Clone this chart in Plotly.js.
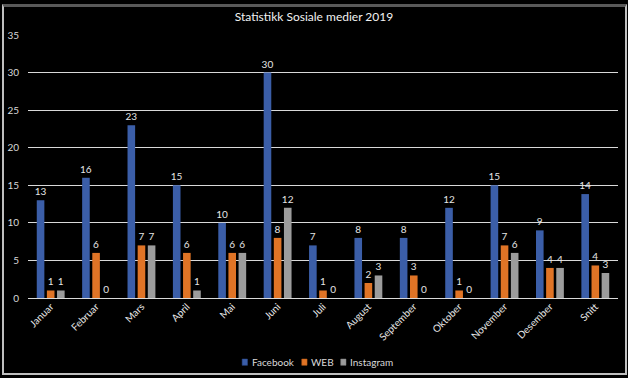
<!DOCTYPE html>
<html><head><meta charset="utf-8">
<script src="https://cdn.plot.ly/plotly-3.0.1.min.js"></script>
<style>
html,body{margin:0;padding:0;background:#000;}
#wrap{position:relative;width:628px;height:378px;}
#chart{width:628px;height:378px;}
#frame{position:absolute;left:2px;top:4px;width:621px;height:366px;border:2px solid #bfbfbf;border-top:3px solid #595959;pointer-events:none;}
</style></head>
<body>
<div id="wrap"><div id="chart"></div><div id="frame"></div></div>
<script>
var categories = ["Januar","Februar","Mars","April","Mai","Juni","Juli","August","September","Oktober","November","Desember","Snitt"];
var facebook = [13,16,23,15,10,30,7,8,8,12,15,9,13.83];
var web = [1,6,7,6,6,8,1,2,3,1,7,4,4.33];
var instagram = [1,0,7,1,6,12,0,3,0,0,6,4,3.33];
var seriesNames = ["Facebook","WEB","Instagram"];
var seriesColors = ["#3b5ea8","#e07426","#9c9c9c"];
var seriesLines = ["#2c4a8c","#b95c17","#7d7d7d"];

function labels(arr){return arr.map(function(v){return String(Math.round(v));});}
var font = "Lato, Open Sans, sans-serif";
var vals = [facebook, web, instagram];
var data = vals.map(function(v,i){
  return {type:'bar', name:seriesNames[i], x:categories, y:v, text:labels(v),
    textposition:'outside', cliponaxis:false, constraintext:'none',
    outsidetextfont:{color:'#e6e6e6', size:10, family:font},
    textfont:{color:'#e6e6e6', size:10, family:font},
    marker:{color:seriesColors[i], line:{width:0}}, hoverinfo:'y', showlegend:false};
});

// compact legend built from series names/colours (below the plot)
var legendX = [0.363, 0.464, 0.53];
var shapes = [], annotations = [];
seriesNames.forEach(function(n,i){
  shapes.push({type:'rect', xref:'paper', yref:'paper', x0:legendX[i], x1:legendX[i]+0.009, y0:-0.232, y1:-0.256,
    fillcolor:seriesColors[i], line:{color:seriesLines[i], width:0.5}});
  annotations.push({xref:'paper', yref:'paper', x:legendX[i]+0.013, y:-0.244, xanchor:'left', yanchor:'middle',
    text:n, showarrow:false, font:{color:'#d9d9d9', size:10, family:font}});
});

var layout = {
  width:628, height:378,
  paper_bgcolor:'#000', plot_bgcolor:'#000',
  margin:{l:28, r:10, t:35, b:80},
  title:{text:'Statistikk Sosiale medier 2019', font:{color:'#f2f2f2', size:12, family:font}, x:0.5, xanchor:'center', y:0.955, yanchor:'middle'},
  barmode:'group', bargap:0.33, bargroupgap:0.25,
  xaxis:{tickangle:-45, tickfont:{color:'#e6e6e6', size:10, family:font}, showgrid:false, zeroline:false, showline:false, ticks:'', automargin:false},
  yaxis:{range:[0,35], dtick:5, tickfont:{color:'#d9d9d9', size:10, family:font}, ticklabelstandoff:8, gridcolor:'#d9d9d9', gridwidth:1, zeroline:true, zerolinecolor:'#d9d9d9', zerolinewidth:1, showline:false, ticks:'', automargin:false},
  showlegend:false,
  shapes:shapes, annotations:annotations
};
Plotly.newPlot('chart', data, layout, {displayModeBar:false, staticPlot:true});
</script>
</body></html>
